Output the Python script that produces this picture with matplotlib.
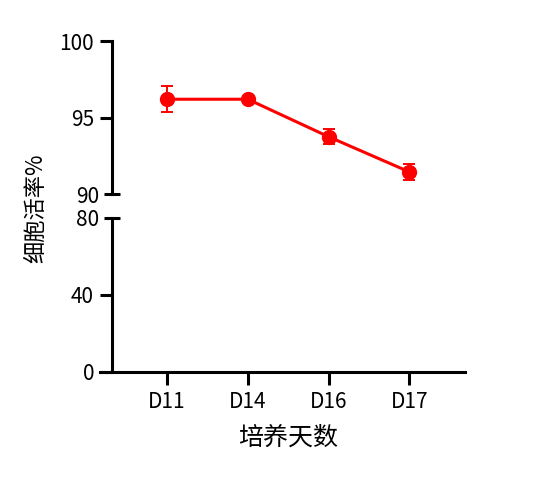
import matplotlib
matplotlib.use('Agg')
import matplotlib.pyplot as plt
from matplotlib.ticker import FixedLocator, FixedFormatter

plt.rcParams['font.family'] = ['Noto Sans CJK SC', 'DejaVu Sans']

days = ['D11', 'D14', 'D16', 'D17']
viability = [96.2, 96.2, 93.75, 91.45]
viability_err = [0.85, 0.2, 0.5, 0.5]
top_ticks = [95, 100]
bottom_ticks = [0, 40]

red = '#ff0000'
lw = 2.2
x = list(range(len(days)))
x_left = -0.83
spine_x = -0.68

fig = plt.figure(figsize=(5.4, 4.78), dpi=100)
ax_top = fig.add_axes([100 / 540, 0.594, 365 / 540, 0.320])
ax_bot = fig.add_axes([100 / 540, 0.222, 365 / 540, 0.322])
# the x axis sticks out a little to the left of the y axis
for ax in (ax_top, ax_bot):
    ax.set_xlim(x_left, 3.69)
    ax.spines['top'].set_visible(False)
    ax.spines['right'].set_visible(False)
    ax.spines['left'].set_position(('data', spine_x))
    ax.spines['left'].set_linewidth(lw)
    ax.spines['bottom'].set_linewidth(lw)
    ax.patch.set_alpha(0)
    ax.tick_params(axis='y', which='major', direction='out', length=9,
                   width=lw, labelsize=15, pad=4)
    ax.tick_params(axis='y', which='minor', direction='inout', length=11,
                   width=lw, labelsize=15, pad=4)

ax_top.errorbar(x, viability, yerr=viability_err, color=red, lw=lw,
                marker='o', markersize=10, capsize=4.5, elinewidth=1.4,
                capthick=1.4, clip_on=False)
ax_bot.errorbar(x, viability, yerr=viability_err, color=red, lw=lw,
                marker='o', markersize=10, capsize=4.5, elinewidth=1.4,
                capthick=1.4)

ax_top.set_ylim(90, 100)
ax_top.spines['bottom'].set_visible(False)
ax_top.set_xticks([])
ax_top.yaxis.set_major_locator(FixedLocator(top_ticks))
ax_top.yaxis.set_minor_locator(FixedLocator([90]))
ax_top.yaxis.set_minor_formatter(FixedFormatter(['90']))

ax_bot.set_ylim(0, 80)
ax_bot.spines['left'].set_bounds(0, 80)
ax_bot.yaxis.set_major_locator(FixedLocator(bottom_ticks))
ax_bot.yaxis.set_minor_locator(FixedLocator([80]))
ax_bot.yaxis.set_minor_formatter(FixedFormatter(['80']))
ax_bot.set_xticks(x)
ax_bot.set_xticklabels(days)
ax_bot.tick_params(axis='x', direction='out', length=9, width=lw,
                   labelsize=15, pad=5)

fig.text(288 / 540, 1 - 438 / 478, '培养天数', ha='center', va='center',
         fontsize=18)
fig.text(36 / 540, 1 - 208 / 478, '细胞活率%', ha='center', va='center',
         rotation=90, fontsize=16)

fig.savefig('out.png', dpi=100)
